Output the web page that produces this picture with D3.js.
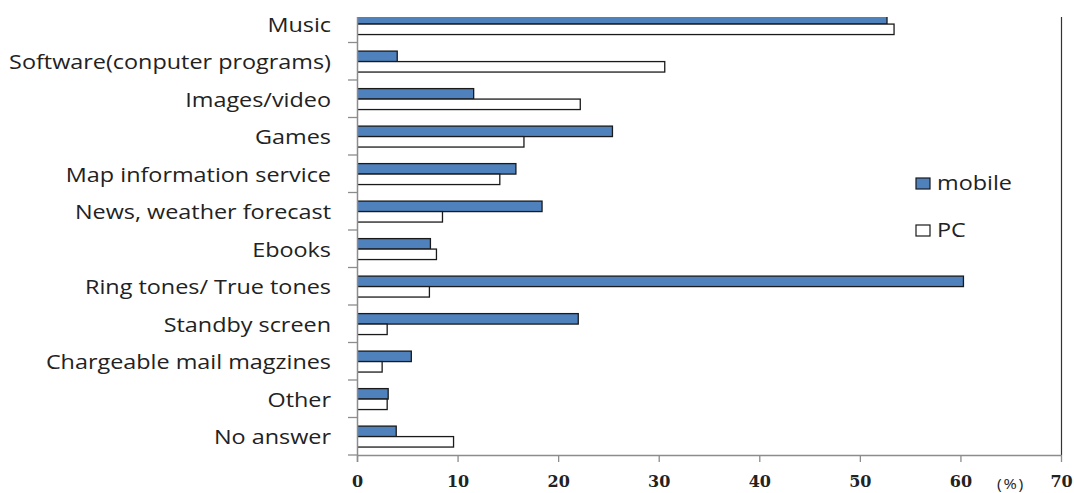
<!DOCTYPE html>
<html>
<head>
<meta charset="utf-8">
<script src="https://cdn.jsdelivr.net/npm/d3@7"></script>
<style>
  html, body { margin: 0; padding: 0; background: #fff; }
  svg { display: block; }
  text { font-family: "Open Sans", "DejaVu Sans", sans-serif; fill: #222; }
</style>
</head>
<body>
<svg id="chart" width="1074" height="493"></svg>
<script>
// Content types downloaded, share of respondents (%)
const categories = [
  "Music",
  "Software(conputer programs)",
  "Images/video",
  "Games",
  "Map information service",
  "News, weather forecast",
  "Ebooks",
  "Ring tones/ True tones",
  "Standby screen",
  "Chargeable mail magzines",
  "Other",
  "No answer"
];
const mobileValues = [52.7, 4.0, 11.6, 25.4, 15.8, 18.4, 7.3, 60.3, 22.0, 5.4, 3.1, 3.9];
const pcValues     = [53.4, 30.6, 22.2, 16.6, 14.2, 8.5, 7.9, 7.2, 3.0, 2.5, 3.0, 9.6];
const seriesNames  = ["mobile", "PC"];
const xTicks       = [0, 10, 20, 30, 40, 50, 60, 70];
const unitLabel    = "(%)";

const seriesColor = { mobile: "#4F81BD", PC: "#FFFFFF" };
const WIDE = 1.2; // horizontal stretch applied to the sans-serif labels

const rows = categories.map((c, i) => ({ cat: c, mobile: mobileValues[i], PC: pcValues[i] }));

const svg = d3.select("#chart");

const left = 357, right = 1061, bottom = 455, plotTop = 17;
const bandTop = 5;

const x = d3.scaleLinear().domain([0, 70]).range([left, right]);
const y = d3.scaleBand().domain(categories).range([bandTop, bottom]).padding(0);
const ySub = d3.scaleBand().domain(seriesNames).range([0, y.bandwidth()]).paddingInner(0).paddingOuter(0.79).align(0.52);

// Plot area clip (first category's upper bar runs into the top edge)
svg.append("defs").append("clipPath").attr("id", "plotClip")
  .append("rect").attr("x", left).attr("y", plotTop).attr("width", right - left + 2).attr("height", bottom - plotTop);

// Bars
const g = svg.append("g").attr("clip-path", "url(#plotClip)");
const groups = g.selectAll("g.cat").data(rows).join("g")
  .attr("class", "cat")
  .attr("transform", d => `translate(0,${y(d.cat)})`);

groups.selectAll("rect").data(d => seriesNames.map(s => ({ s, v: d[s] }))).join("rect")
  .attr("x", x(0))
  .attr("y", d => ySub(d.s))
  .attr("width", d => x(d.v) - x(0))
  .attr("height", ySub.bandwidth())
  .attr("fill", d => seriesColor[d.s])
  .attr("stroke", "#1a1a1a")
  .attr("stroke-width", 1.3);

// Right frame line
svg.append("line")
  .attr("x1", right + 0.5).attr("x2", right + 0.5)
  .attr("y1", plotTop).attr("y2", bottom)
  .attr("stroke", "#333").attr("stroke-width", 1.2);

// Y axis: line and category separators
const yAxisG = svg.append("g");
yAxisG.append("line")
  .attr("x1", left + 0.5).attr("x2", left + 0.5)
  .attr("y1", plotTop).attr("y2", bottom + 7)
  .attr("stroke", "#8c8c8c").attr("stroke-width", 1.5);
const sepYs = categories.slice(1).map(c => y(c)).concat([bottom]);
yAxisG.selectAll("line.sep").data(sepYs).join("line")
  .attr("class", "sep")
  .attr("x1", left - 9).attr("x2", left)
  .attr("y1", d => d).attr("y2", d => d)
  .attr("stroke", "#8c8c8c").attr("stroke-width", 1.3);

yAxisG.selectAll("text.cat").data(categories).join("text")
  .attr("class", "cat")
  .attr("transform", d => `translate(331,${y(d) + y.bandwidth() / 2 + 8}) scale(${WIDE},1)`)
  .attr("text-anchor", "end")
  .style("font-size", "19.5px")
  .text(d => d);

// X axis
const xAxisG = svg.append("g").attr("transform", `translate(0,${bottom})`)
  .call(d3.axisBottom(x).tickValues(xTicks).tickSize(7).tickSizeOuter(0).tickPadding(0));
xAxisG.select(".domain").attr("stroke", "#8c8c8c").attr("stroke-width", 1.3);
xAxisG.selectAll(".tick line").attr("stroke", "#8c8c8c").attr("stroke-width", 1.3);
xAxisG.selectAll(".tick text")
  .attr("y", 31.5)
  .attr("dy", null)
  .style("font-family", "'DejaVu Serif', 'Liberation Serif', serif")
  .style("font-size", "16px")
  .style("font-weight", "bold")
  .attr("fill", "#1a1a1a");

svg.append("text")
  .attr("transform", `translate(1011,489) scale(1.15,1)`)
  .attr("text-anchor", "middle")
  .style("font-size", "14px")
  .style("letter-spacing", "1.5px")
  .text(unitLabel);

// Legend
const legend = svg.append("g");
const legendRows = legend.selectAll("g").data(seriesNames).join("g")
  .attr("transform", (d, i) => `translate(916,${178 + i * 47})`);
legendRows.append("rect")
  .attr("width", 14).attr("height", 11)
  .attr("fill", d => seriesColor[d])
  .attr("stroke", "#1a1a1a").attr("stroke-width", 1.2);
legendRows.append("text")
  .attr("transform", `translate(21,12) scale(${WIDE},1)`)
  .style("font-size", "19.5px")
  .text(d => d);
</script>
</body>
</html>
